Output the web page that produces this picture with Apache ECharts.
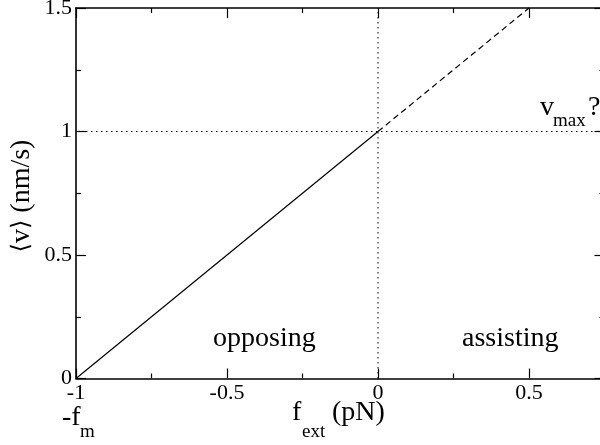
<!DOCTYPE html>
<html>
<head>
<meta charset="utf-8">
<script src="https://cdn.jsdelivr.net/npm/echarts@6/dist/echarts.min.js"></script>
<style>html,body{margin:0;padding:0;background:#fff}#c{width:600px;height:445px}</style>
</head>
<body>
<div id="c"></div>
<script>
// Data
var xRange = [-1, 0.75];
var yRange = [0, 1.5];
var solidLine = [[-1, 0], [0, 1]];
var dashedLine = [[0, 1], [0.5, 1.5]];
var dottedVertical = [[0, 0], [0, 1.5]];
var dottedHorizontal = [[-1, 1], [0.75, 1]];
var xTickInterval = 0.5;
var yTickInterval = 0.5;

var FONT = '"Liberation Serif", "Times New Roman", serif';
var chart = echarts.init(document.getElementById('c'), null, {renderer: 'canvas'});

function axisCommon(showLabel) {
  return {
    axisLine: {show: true, onZero: false, lineStyle: {color: '#000', width: 1.6}},
    axisTick: {show: true, inside: true, length: 10, lineStyle: {color: '#000', width: 1.2}},
    minorTick: {show: true, splitNumber: 2, length: 5, lineStyle: {color: '#000', width: 1.2}},
    splitLine: {show: false},
    axisLabel: {show: showLabel, color: '#000', fontFamily: FONT, fontSize: 22, margin: 4,
                showMaxLabel: false, showMinLabel: true}
  };
}

var xb = Object.assign({type: 'value', min: xRange[0], max: xRange[1], interval: xTickInterval, position: 'bottom'}, axisCommon(true));
var xt = Object.assign({type: 'value', min: xRange[0], max: xRange[1], interval: xTickInterval, position: 'top'}, axisCommon(false));
var yl = Object.assign({type: 'value', min: yRange[0], max: yRange[1], interval: yTickInterval, position: 'left'}, axisCommon(true));
yl.axisLabel.showMaxLabel = true;
var yr = Object.assign({type: 'value', min: yRange[0], max: yRange[1], interval: yTickInterval, position: 'right'}, axisCommon(false));

function lineSeries(data, type, width) {
  return {
    type: 'line', data: data, xAxisIndex: 0, yAxisIndex: 0,
    symbol: 'none', silent: true, animation: false, clip: false,
    lineStyle: {color: '#000', width: width, type: type}
  };
}

function txt(text, x, y, size) {
  return {
    type: 'text', x: x, y: y, silent: true,
    style: {text: text, fontFamily: FONT, fontSize: size, fill: '#000', align: 'left', verticalAlign: 'middle'}
  };
}

var option = {
  animation: false,
  grid: {left: 76, top: 8, width: 528.5, height: 370.5, containLabel: false, outerBoundsMode: 'none'},
  xAxis: [xb, xt],
  yAxis: [yl, yr],
  series: [
    lineSeries(dottedVertical, [1.5, 3.5], 1),
    lineSeries(dottedHorizontal, [1.5, 3.5], 1),
    lineSeries(solidLine, 'solid', 1.2),
    lineSeries(dashedLine, [6, 4], 1.2)
  ],
  graphic: [
    txt('opposing', 213, 338.5, 28),
    txt('assisting', 462, 338.5, 28),
    txt('v', 540, 107.5, 28),
    txt('max', 553, 121.5, 19),
    txt('?', 588, 107.5, 28),
    txt('-f', 62, 417.5, 28),
    txt('m', 80, 432.5, 19),
    txt('f', 292, 412.5, 28),
    txt('ext', 302, 432, 19),
    txt('(pN)', 332, 412.5, 28),
    {
      type: 'text', x: 22, y: 196, rotation: Math.PI / 2, silent: true,
      style: {
        text: '{b|\u27E8}{r|v}{b|\u27E9}{r| (nm/s)}',
        fontFamily: FONT, fontSize: 28, fill: '#000', align: 'center', verticalAlign: 'middle',
        rich: {
          b: {fontFamily: '"DejaVu Serif", serif', fontSize: 24, fill: '#000'},
          r: {fontFamily: FONT, fontSize: 28, fill: '#000'}
        }
      }
    }
  ]
};
chart.setOption(option);
</script>
</body>
</html>
